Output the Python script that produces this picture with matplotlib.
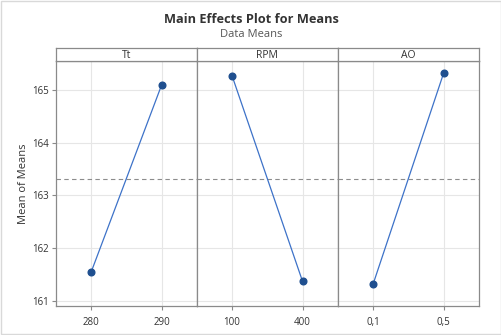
import matplotlib
matplotlib.use("Agg")
import matplotlib.pyplot as plt
from matplotlib.patches import Rectangle

plt.rcParams['font.family'] = ['Open Sans', 'DejaVu Sans']

factors = ["Tt", "RPM", "AO"]
levels = [["280", "290"], ["100", "400"], ["0,1", "0,5"]]
means = [[161.54, 165.09], [165.27, 161.37], [161.32, 165.32]]
grand_mean = 163.32
y_ticks = [161, 162, 163, 164, 165]

fig = plt.figure(figsize=(5.02, 3.35), dpi=100)
fig.patch.set_facecolor("white")
# thin outer frame
fig.add_artist(Rectangle((0.002, 0.003), 0.996, 0.994, transform=fig.transFigure,
                         fill=False, edgecolor="#d9d9d9", lw=1.0))

fig.text(0.5, 0.943, "Main Effects Plot for Means", ha="center", va="center",
         fontsize=9.2, fontweight="bold", color="#333333")
fig.text(0.5, 0.898, "Data Means", ha="center", va="center",
         fontsize=8, color="#555555")

left, right = 0.111, 0.954
bottom, top = 0.0866, 0.818
strip_top = 0.857
n = len(factors)
w = (right - left) / n
frame_col = "#8a8a8a"

for i, (f, lv, m) in enumerate(zip(factors, levels, means)):
    ax = fig.add_axes([left + i * w, bottom, w, top - bottom])
    x = list(range(len(lv)))
    ax.set_xlim(-0.5, len(lv) - 0.5)
    ax.set_ylim(160.905, 165.55)
    ax.set_yticks(y_ticks)
    ax.set_xticks(x)
    ax.set_xticklabels(lv)
    ax.grid(True, color="#e6e6e6", lw=0.8)
    ax.set_axisbelow(True)
    ax.axhline(grand_mean, color="#8c8c8c", lw=0.8, ls=(0, (4, 3)))
    ax.plot(x, m, color="#3d72c8", lw=0.9, zorder=3)
    ax.plot(x, m, "o", color="#1f4f8f", ms=4.8, zorder=4)
    for s in ax.spines.values():
        s.set_color(frame_col)
        s.set_linewidth(0.9)
    ax.tick_params(axis="x", labelsize=7, length=3, color=frame_col, pad=5, labelcolor="#333333")
    if i == 0:
        ax.tick_params(axis="y", labelsize=7, length=3, pad=2, color=frame_col, labelcolor="#333333")
        ax.set_ylabel("Mean of Means", fontsize=8, color="#333333")
        ax.yaxis.set_label_coords(-0.19, 0.5)
    else:
        ax.tick_params(axis="y", left=False, labelleft=False)
    # strip header
    sax = fig.add_axes([left + i * w, top, w, strip_top - top])
    sax.set_xticks([])
    sax.set_yticks([])
    sax.set_facecolor("white")
    for s in sax.spines.values():
        s.set_color(frame_col)
        s.set_linewidth(0.9)
    sax.text(0.5, 0.45, f, ha="center", va="center", fontsize=7.5,
             color="#333333", transform=sax.transAxes)

fig.savefig("out.png", dpi=100)
